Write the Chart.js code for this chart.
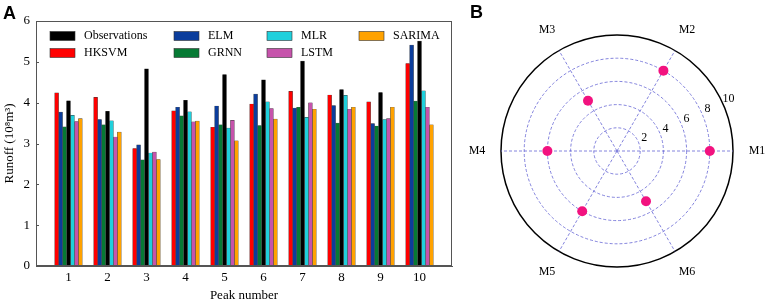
<!DOCTYPE html>
<html>
<head>
<meta charset="utf-8">
<script src="https://cdn.jsdelivr.net/npm/chart.js@4.4.1/dist/chart.umd.min.js"></script>
<style>
body { margin: 0; background: #fff; }
#wrap { position: relative; width: 768px; height: 303px; overflow: hidden; }
#barBox { position: absolute; left: 0; top: 0; width: 462px; height: 303px; }
#polarBox { position: absolute; left: 460px; top: 0; width: 308px; height: 303px; }
.tag { position: absolute; font: bold 18px "Liberation Sans", Arial, sans-serif; line-height: 18px; }
</style>
</head>
<body>
<div id="wrap">
  <div id="barBox"><canvas id="barChart"></canvas></div>
  <div id="polarBox"><canvas id="polarChart"></canvas></div>
  <div class="tag" style="left:3px; top:4px;">A</div>
  <div class="tag" style="left:470px; top:3px;">B</div>
</div>
<script>

// panel A data
const peaks = [1, 2, 3, 4, 5, 6, 7, 8, 9, 10];
const hksvm = [4.24, 4.13, 2.88, 3.80, 3.40, 3.97, 4.28, 4.19, 4.02, 4.96];
const elm = [3.77, 3.59, 2.97, 3.89, 3.92, 4.21, 3.87, 3.93, 3.49, 5.41];
const grnn = [3.41, 3.46, 2.60, 3.68, 3.46, 3.44, 3.89, 3.50, 3.43, 4.04];
const observations = [4.05, 3.79, 4.83, 4.06, 4.69, 4.56, 5.02, 4.32, 4.25, 5.51];
const mlr = [3.69, 3.56, 2.77, 3.78, 3.38, 4.02, 3.64, 4.18, 3.59, 4.29];
const lstm = [3.54, 3.16, 2.79, 3.53, 3.57, 3.86, 4.00, 3.84, 3.61, 3.89];
const sarima = [3.61, 3.28, 2.61, 3.55, 3.07, 3.60, 3.84, 3.89, 3.89, 3.46];
const yTicks = [0, 1, 2, 3, 4, 5, 6];

// panel B data
const models = ["M1", "M2", "M3", "M4", "M5", "M6"];
const modelValues = [8.0, 8.0, 5.0, 6.0, 6.0, 5.0];
const rTicks = [2, 4, 6, 8, 10];

Chart.defaults.font.family = '"Liberation Serif", "Times New Roman", serif';
Chart.defaults.font.size = 13;
Chart.defaults.color = "#000";

const series = [
    { label: "HKSVM", data: hksvm, color: "#ff0000" },
    { label: "ELM", data: elm, color: "#0b3d9c" },
    { label: "GRNN", data: grnn, color: "#067a34" },
    { label: "Observations", data: observations, color: "#000000" },
    { label: "MLR", data: mlr, color: "#1fd0dc" },
    { label: "LSTM", data: lstm, color: "#c653ab" },
    { label: "SARIMA", data: sarima, color: "#ffa200" }
];
const legendOrder = ["Observations", "HKSVM", "ELM", "GRNN", "MLR", "LSTM", "SARIMA"];

// frame round the plot + small inward ticks on y
const framePlugin = {
    id: "frame",
    afterDatasetsDraw(chart) {
        const a = chart.chartArea;
        const ctx = chart.ctx;
        const y = chart.scales.y;
        ctx.save();
        ctx.strokeStyle = "#555";
        ctx.lineWidth = 1;
        ctx.strokeRect(a.left + 0.5, a.top + 0.5, a.right - a.left - 1, a.bottom - a.top - 1);
        ctx.beginPath();
        yTicks.forEach(function (v) {
            const py = Math.round(y.getPixelForValue(v)) + 0.5;
            ctx.moveTo(a.left, py);
            ctx.lineTo(a.left + 3, py);
        });
        ctx.stroke();
        ctx.restore();
    }
};

const legendPlugin = {
    id: "boxLegend",
    afterDraw(chart) {
        const ctx = chart.ctx;
        const cols = [50, 174, 267, 359];
        const rows = [36, 53];
        ctx.save();
        ctx.font = '12px "Liberation Serif", "Times New Roman", serif';
        ctx.textBaseline = "middle";
        legendOrder.forEach(function (name, k) {
            const s = series.find(d => d.label === name);
            const x = cols[Math.floor(k / 2)];
            const y = rows[k % 2];
            ctx.fillStyle = s.color;
            ctx.fillRect(x, y - 4.5, 25, 9);
            ctx.strokeStyle = "#333";
            ctx.lineWidth = 0.6;
            ctx.strokeRect(x, y - 4.5, 25, 9);
            ctx.fillStyle = "#000";
            ctx.fillText(name, x + 34, y);
        });
        ctx.restore();
    }
};

new Chart(document.getElementById("barChart"), {
    type: "bar",
    data: {
        datasets: series.map(s => ({
            label: s.label,
            data: peaks.map((p, i) => ({ x: p, y: s.data[i] })),
            backgroundColor: s.color,
            borderColor: "#333",
            borderWidth: 0.4,
            inflateAmount: 0.25,
            categoryPercentage: 0.71,
            barPercentage: 1
        }))
    },
    options: {
        responsive: true,
        maintainAspectRatio: false,
        animation: false,
        layout: { padding: { left: 0, top: 21, right: 10, bottom: 0 } },
        plugins: { legend: { display: false }, tooltip: { enabled: false } },
        scales: {
            x: {
                type: "linear",
                min: 0.167,
                max: 10.833,
                offset: false,
                afterBuildTicks: s => { s.ticks = peaks.map(v => ({ value: v })); },
                afterFit: s => { s.height = 37; },
                grid: { display: false, drawTicks: false },
                border: { display: true, color: "#555" },
                ticks: { padding: 4, autoSkip: false, maxRotation: 0 },
                title: { display: true, text: "Peak number", padding: { top: 0, bottom: 0 } }
            },
            y: {
                min: 0,
                max: 6,
                afterBuildTicks: s => { s.ticks = yTicks.map(v => ({ value: v })); },
                afterFit: s => { s.width = 36; },
                grid: { display: false, drawTicks: false },
                border: { display: true, color: "#555" },
                ticks: { padding: 6 },
                title: { display: true, text: "Runoff (10⁸m³)", padding: { top: 2, bottom: 0 } }
            }
        }
    },
    plugins: [framePlugin, legendPlugin]
});

// radar runs clockwise, the reference runs anticlockwise from the right
const radarOrder = [0, 5, 4, 3, 2, 1];
const gridBlue = "#6464d4";

const polarTextPlugin = {
    id: "polarText",
    afterDraw(chart) {
        const r = chart.scales.r;
        const ctx = chart.ctx;
        ctx.save();
        ctx.font = '12px "Liberation Serif", "Times New Roman", serif';
        ctx.fillStyle = "#000";
        ctx.textAlign = "center";
        ctx.textBaseline = "middle";
        chart.data.labels.forEach(function (lab, i) {
            const p = r.getPointPosition(i, r.drawingArea + 24);
            ctx.fillText(lab, p.x, p.y);
        });
        const a = -25 * Math.PI / 180;
        rTicks.forEach(function (v) {
            const d = r.getDistanceFromCenterForValue(v) + 7;
            ctx.fillText(String(v), r.xCenter + d * Math.cos(a), r.yCenter + d * Math.sin(a));
        });
        ctx.restore();
    }
};

new Chart(document.getElementById("polarChart"), {
    type: "radar",
    data: {
        labels: radarOrder.map(i => models[i]),
        datasets: [{
            data: radarOrder.map(i => modelValues[i]),
            showLine: false,
            fill: false,
            borderWidth: 0,
            pointRadius: 5,
            pointBorderWidth: 0,
            pointBackgroundColor: "#f2127f",
            pointBorderColor: "#f2127f"
        }]
    },
    options: {
        responsive: true,
        maintainAspectRatio: false,
        animation: false,
        layout: { padding: { left: 40.5, right: 34.5, top: 34.5, bottom: 35.5 } },
        plugins: { legend: { display: false }, tooltip: { enabled: false } },
        scales: {
            r: {
                min: 0,
                max: 10,
                startAngle: 90,
                afterBuildTicks: s => { s.ticks = [0].concat(rTicks).map(v => ({ value: v })); },
                ticks: { display: false },
                pointLabels: { display: false },
                grid: {
                    circular: true,
                    color: c => c.tick && c.tick.value === 10 ? "#000" : gridBlue,
                    lineWidth: c => c.tick && c.tick.value === 10 ? 1.5 : 0.8
                },
                border: { dash: c => c.tick && c.tick.value === 10 ? [] : [3, 2] },
                angleLines: { color: gridBlue, lineWidth: 0.8, borderDash: [3, 2] }
            }
        }
    },
    plugins: [polarTextPlugin]
});

</script>
</body>
</html>
